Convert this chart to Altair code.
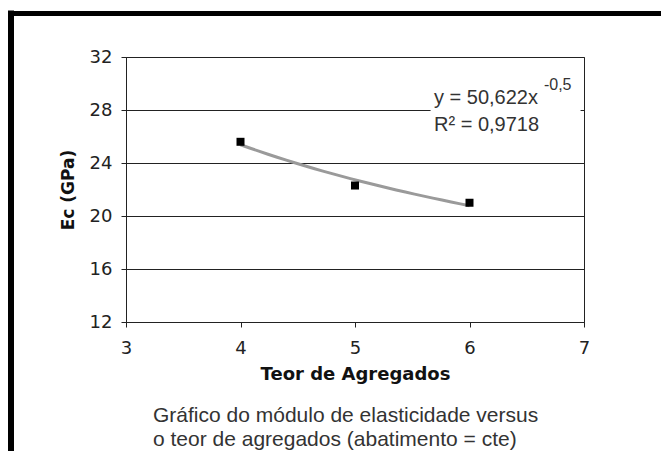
import altair as alt
import pandas as pd

# ---- data ----
teor = [4, 5, 6]
ec = [25.6, 22.3, 21.0]
x_ticks = [3, 4, 5, 6, 7]
y_ticks = [12, 16, 20, 24, 28, 32]
x_domain = [3, 7]
y_domain = [12, 32]
eq_text = "y = 50,622x"
eq_exp = "-0,5"
r2_text = "R\u00b2 = 0,9718"
caption = ["Gr\u00e1fico do m\u00f3dulo de elasticidade versus",
           "o teor de agregados (abatimento = cte)"]
x_title = "Teor de Agregados"
y_title = "Ec (GPa)"

df = pd.DataFrame({"teor": teor, "ec": ec})
one = pd.DataFrame({"k": [0]})

W, H = 458, 265
PAD = {"left": 118, "top": 49, "right": 77, "bottom": 129}

xs = alt.Scale(domain=x_domain, nice=False, zero=False)
ys = alt.Scale(domain=y_domain, nice=False, zero=False)

x_axis = alt.Axis(values=x_ticks, title=x_title, grid=False, format="d",
                  labelFlush=False, labelOverlap=False, labelPadding=12,
                  titleX=W / 2, titleY=57, titleBaseline="alphabetic",
                  titleAnchor="middle")
y_axis = alt.Axis(values=y_ticks, title=y_title, grid=True, format="d",
                  labelFlush=False, labelOverlap=False, labelPadding=9,
                  titleX=-58, titleY=H / 2, titleAngle=-90,
                  titleAlign="center", titleBaseline="middle",
                  titleFontSize=17)

X = alt.X("teor:Q", scale=xs, axis=x_axis)
Y = alt.Y("ec:Q", scale=ys, axis=y_axis)

base = alt.Chart(df)

trend = base.transform_regression(
    "teor", "ec", method="pow", extent=[4, 6]
).mark_line(color="#9a9a9a", strokeWidth=3).encode(x=X, y=Y)

points = base.mark_point(shape="square", filled=True, color="#000000",
                         size=64, opacity=1).encode(x=X, y=Y)

# white box behind the equation (covers the grid line, as in the reference)
box = alt.Chart(one).mark_rect(color="white").encode(
    x=alt.datum(5.66, scale=xs), x2=alt.datum(6.97),
    y=alt.datum(25.8, scale=ys), y2=alt.datum(30.4))

txt_style = dict(font="Liberation Sans", color="#333333", align="left",
                 baseline="alphabetic")
eq = alt.Chart(one).mark_text(text=eq_text, fontSize=20, **txt_style).encode(
    x=alt.datum(5.69, scale=xs), y=alt.datum(28.45, scale=ys))
exp = alt.Chart(one).mark_text(text=eq_exp, fontSize=16, **txt_style).encode(
    x=alt.datum(6.65, scale=xs), y=alt.datum(29.5, scale=ys))
r2 = alt.Chart(one).mark_text(text=r2_text, fontSize=20, **txt_style).encode(
    x=alt.datum(5.69, scale=xs), y=alt.datum(26.4, scale=ys))

cap1 = alt.Chart(one).mark_text(text=caption[0], fontSize=21,
                                **txt_style).encode(
    x=alt.value(27), y=alt.value(365))
cap2 = alt.Chart(one).mark_text(text=caption[1], fontSize=21,
                                **txt_style).encode(
    x=alt.value(27), y=alt.value(389))

# thick outer frame (top and left edges visible in the reference)
frame_left = alt.Chart(one).mark_rule(color="black", strokeWidth=6).encode(
    x=alt.value(-115), y=alt.value(-46.5), y2=alt.value(400))
frame_top = alt.Chart(one).mark_rule(color="black", strokeWidth=5).encode(
    x=alt.value(-118), x2=alt.value(560), y=alt.value(-43.5))

chart = alt.layer(
    frame_left, frame_top, trend, points, box, eq, exp, r2, cap1, cap2
).properties(
    width=W, height=H,
    autosize=alt.AutoSizeParams(type="none"),
    padding=PAD,
    background="white",
).configure_view(
    stroke="#222222", strokeWidth=1
).configure_axis(
    domainColor="#222222", domainWidth=1,
    tickColor="#222222", tickWidth=1, tickSize=5,
    gridColor="#222222", gridWidth=1, gridOpacity=1,
    labelFont="DejaVu Sans", labelFontSize=18, labelColor="#222222",
    titleFont="DejaVu Sans", titleFontSize=18, titleFontWeight="bold",
    titleColor="#111111",
)

chart.save("out.html", embed_options={"renderer": "svg", "actions": False})
